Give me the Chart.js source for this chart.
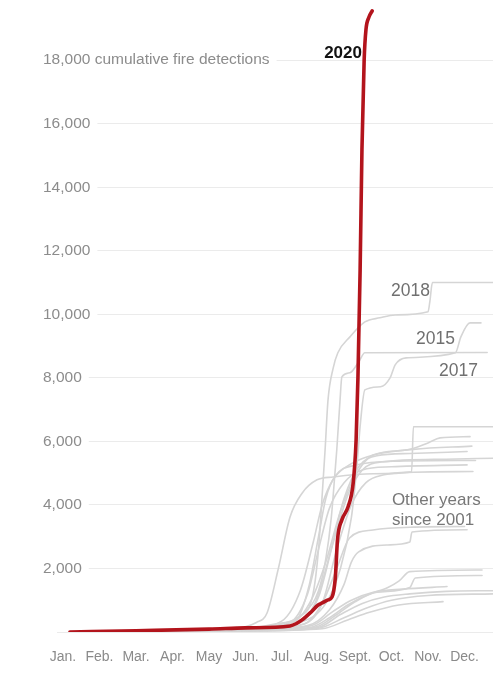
<!DOCTYPE html>
<html>
<head>
<meta charset="utf-8">
<script src="https://cdn.jsdelivr.net/npm/chart.js@4.4.1/dist/chart.umd.min.js"></script>
<style>
  html, body { margin: 0; padding: 0; background: #fff; }
  #wrap { width: 493px; height: 673px; }
</style>
</head>
<body>
<div id="wrap"><canvas id="fires" width="493" height="673"></canvas></div>
<script>
// Meses (x = índice de mes, 0 = 1 de enero)
const months = ['Jan.', 'Feb.', 'Mar.', 'Apr.', 'May', 'Jun.', 'Jul.', 'Aug.', 'Sept.', 'Oct.', 'Nov.', 'Dec.'];
const yTicks = [0, 2000, 4000, 6000, 8000, 10000, 12000, 14000, 16000, 18000];
const yUnit = 'cumulative fire detections';

// Detecciones acumuladas [mes, valor]
const fires2020 = [[0.19, 0], [2, 40], [4, 90], [5, 130], [6.22, 190], [6.4, 270], [6.55, 380], [6.77, 600], [6.99, 850], [7.1, 915], [7.26, 1010], [7.37, 1100], [7.46, 1700], [7.52, 2900], [7.64, 3530], [7.81, 3940], [7.95, 4690], [8.03, 6050], [8.08, 8000], [8.14, 11400], [8.19, 15180], [8.25, 18000], [8.3, 18960], [8.38, 19350], [8.47, 19550]];
const fires2018 = [[0.19, 0], [5, 110], [5.8, 250], [6.5, 500], [6.85, 1200], [7.0, 2600], [7.1, 4300], [7.18, 5730], [7.26, 7300], [7.4, 8300], [7.53, 8790], [7.86, 9290], [8.27, 9760], [8.68, 9890], [9.1, 9980], [10.0, 10080], [10.05, 10400], [10.12, 11000], [11.78, 11000]];
const fires2015 = [[0.19, 0], [5, 90], [6, 250], [6.6, 600], [7.0, 1300], [7.2, 2300], [7.35, 3600], [7.45, 5000], [7.5, 5730], [7.59, 7300], [7.64, 8030], [7.86, 8160], [8.1, 8500], [8.27, 8790], [11.62, 8800]];
const fires2017 = [[0.19, 0], [5, 80], [6.5, 300], [7.2, 900], [7.6, 2000], [7.9, 3600], [8.05, 5200], [8.15, 6600], [8.27, 7620], [8.7, 7720], [8.96, 8000], [9.1, 8410], [9.4, 8630], [10.75, 8790], [10.9, 9290], [11.15, 9730], [11.45, 9730]];

const other01 = [[0.19, 0], [4.5, 80], [5.3, 300], [5.59, 600], [5.9, 2000], [6.22, 3620], [6.55, 4370], [6.96, 4790], [7.4, 4880], [8.5, 4980], [9.55, 5040], [9.6, 6460], [11.78, 6460]];
const other02 = [[0.19, 0], [5, 100], [6.3, 300], [6.8, 1000], [7.2, 2200], [7.6, 3800], [8.0, 4900], [8.49, 5570], [9.42, 5730], [10.0, 5950], [10.33, 6110], [11.15, 6150]];
const other03 = [[0.19, 0], [5, 70], [6.4, 250], [6.9, 900], [7.3, 2400], [7.7, 4200], [8.1, 5200], [8.6, 5550], [9.5, 5620], [11.07, 5680]];
const other04 = [[0.19, 0], [5, 90], [6.5, 300], [7.0, 1100], [7.4, 2800], [7.8, 4300], [8.2, 5100], [8.7, 5350], [10.5, 5440], [11.78, 5470]];
const other05 = [[0.19, 0], [5, 60], [6.6, 250], [7.1, 900], [7.5, 2600], [7.9, 4000], [8.3, 4700], [8.8, 4950], [9.6, 5030], [11.23, 5050]];
const other06 = [[0.19, 0], [5, 80], [6.2, 280], [6.7, 1200], [7.0, 2600], [7.3, 3900], [7.7, 4700], [8.2, 5100], [9.0, 5200], [11.07, 5260]];
const other07 = [[0.19, 0], [5, 50], [6.7, 200], [7.3, 700], [7.7, 1500], [7.9, 2200], [8.1, 2520], [8.9, 2740], [9.5, 2830], [9.56, 3150], [11.07, 3220]];
const other08 = [[0.19, 0], [5, 60], [6.6, 250], [7.1, 900], [7.5, 2000], [7.85, 2960], [8.49, 3210], [9.6, 3300], [11.0, 3320]];
const other09 = [[0.19, 0], [5, 40], [6.8, 150], [7.3, 450], [7.8, 850], [8.3, 1150], [8.9, 1400], [9.2, 1600], [9.5, 1900], [11.48, 1953]];
const other10 = [[0.19, 0], [5, 50], [6.9, 150], [7.5, 550], [8.0, 950], [8.6, 1250], [9.5, 1400], [9.65, 1700], [11.48, 1780]];
const other11 = [[0.19, 0], [5, 60], [6.8, 200], [7.4, 650], [7.9, 1000], [8.5, 1250], [9.3, 1350], [10.52, 1430]];
const other12 = [[0.19, 0], [5, 40], [7.0, 150], [7.6, 550], [8.2, 900], [8.8, 1100], [9.5, 1200], [10.5, 1280], [11.78, 1300]];
const other13 = [[0.19, 0], [5, 30], [7.0, 120], [7.7, 450], [8.3, 750], [9.0, 1000], [10.0, 1150], [11.78, 1200]];
const other14 = [[0.19, 0], [5, 30], [7.1, 100], [7.8, 380], [8.4, 620], [9.2, 850], [10.41, 955]];
const other15 = [[0.19, 0], [5, 100], [6.0, 350], [6.5, 1300], [6.85, 2800], [7.1, 4000], [7.4, 4800], [7.9, 5300], [8.6, 5600], [9.6, 5750], [11.2, 5850]];
const other16 = [[0.19, 0], [5, 80], [6.4, 400], [6.75, 1500], [7.0, 3000], [7.2, 4200], [7.45, 4900], [8.0, 5250], [9.2, 5380], [11.3, 5400]];

const grayYears = [fires2018, fires2015, fires2017, other01, other02, other03, other04, other05, other06, other07, other08, other09, other10, other11, other12, other13, other14, other15, other16];

// Etiquetas dentro del gráfico (posición en unidades de datos)
const notes = [
    { lines: ['2020'], m: 8.19, v: 18230, align: 'right', bold: true, color: '#121212', size: 17 },
    { lines: ['2018'], m: 8.985, v: 10740, align: 'left', color: '#707070', size: 17.5 },
    { lines: ['2015'], m: 9.67, v: 9220, align: 'left', color: '#707070', size: 17.5 },
    { lines: ['2017'], m: 10.3, v: 8210, align: 'left', color: '#707070', size: 17.5 },
    { lines: ['Other years', 'since 2001'], m: 9.01, v: 4150, align: 'left', color: '#777', size: 17, lineGap: 630 }
];

const FONT = "'Liberation Sans', Arial, sans-serif";
const toPoints = arr => arr.map(p => ({ x: p[0], y: p[1] }));

const datasets = [{
    data: toPoints(fires2020),
    borderColor: '#b3141c',
    borderWidth: 3.6,
    order: 0
}].concat(grayYears.map(d => ({
    data: toPoints(d),
    borderColor: '#d5d5d5',
    borderWidth: 1.6,
    order: 1
})));

const notesPlugin = {
    id: 'notes',
    afterDatasetsDraw(chart) {
        const { ctx, scales: { x, y } } = chart;
        ctx.save();
        notes.forEach(n => {
            ctx.font = (n.bold ? 'bold ' : '') + n.size + 'px ' + FONT;
            ctx.fillStyle = n.color;
            ctx.textAlign = n.align;
            ctx.textBaseline = 'middle';
            n.lines.forEach((t, i) => {
                ctx.fillText(t, x.getPixelForValue(n.m), y.getPixelForValue(n.v - i * (n.lineGap || 0)));
            });
        });
        ctx.restore();
    }
};

new Chart(document.getElementById('fires'), {
    type: 'line',
    data: { datasets },
    options: {
        responsive: false,
        animation: false,
        layout: { padding: { top: 3, left: 0, right: 0, bottom: 0 } },
        plugins: { legend: { display: false }, tooltip: { enabled: false } },
        elements: {
            point: { radius: 0 },
            line: { cubicInterpolationMode: 'monotone', borderCapStyle: 'round', borderJoinStyle: 'round' }
        },
        scales: {
            x: {
                type: 'linear',
                min: -0.164,
                max: 11.78,
                grid: { display: false },
                border: { display: false },
                afterBuildTicks: s => { s.ticks = months.map((_, i) => ({ value: i })); },
                afterFit: s => { s.height = 41; s.paddingLeft = 0; s.paddingRight = 0; },
                ticks: {
                    autoSkip: false,
                    maxRotation: 0,
                    padding: 9,
                    color: '#8a8a8a',
                    font: { family: FONT, size: 14 },
                    callback: v => months[Math.round(v)]
                }
            },
            y: {
                type: 'linear',
                min: 0,
                max: 19800,
                grid: { color: '#ebebeb', drawTicks: false, lineWidth: 1 },
                border: { display: false },
                afterBuildTicks: s => { s.ticks = yTicks.map(v => ({ value: v })); },
                afterFit: s => { s.width = 57; s.paddingTop = 0; s.paddingBottom = 0; },
                ticks: {
                    mirror: true,
                    padding: -14,
                    showLabelBackdrop: true,
                    backdropColor: '#fff',
                    backdropPadding: { top: 1, bottom: 1, left: 0, right: 7 },
                    color: '#8c8c8c',
                    font: { family: FONT, size: 15.5 },
                    callback: v => v === 0 ? '' : v === 18000 ? v.toLocaleString('en-US') + ' ' + yUnit : v.toLocaleString('en-US')
                }
            }
        }
    },
    plugins: [notesPlugin]
});
</script>
</body>
</html>
